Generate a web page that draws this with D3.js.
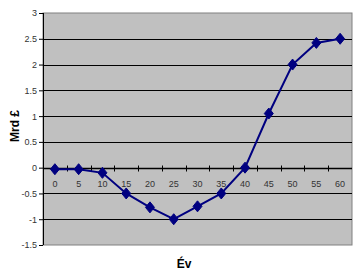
<!DOCTYPE html>
<html>
<head>
<meta charset="utf-8">
<script src="https://cdn.jsdelivr.net/npm/d3@7"></script>
<style>
  body { margin: 0; background: #fff; }
  svg text { font-family: "Liberation Sans", Arial, sans-serif; }
</style>
</head>
<body>
<svg id="chart" width="358" height="278"></svg>
<script>
var years = ["0", "5", "10", "15", "20", "25", "30", "35", "40", "45", "50", "55", "60"]
var values = [-0.03, -0.03, -0.1, -0.5, -0.77, -1.0, -0.75, -0.5, 0.0, 1.05, 2.0, 2.42, 2.5]
var yTicks = [-1.5, -1, -0.5, 0, 0.5, 1, 1.5, 2, 2.5, 3]

var svg = d3.select("#chart"),
	margin = {top: 13, right: 6, bottom: 33, left: 43},
	width = +svg.attr("width") - margin.left - margin.right,
	height = +svg.attr("height") - margin.top - margin.bottom,
	g = svg.append("g").attr("transform", "translate(" + margin.left + "," + margin.top + ")");

var xScale = d3.scaleBand()
	.domain(years)
	.range([0, width]);

var yScale = d3.scaleLinear()
	.domain([-1.5, 3])
	.range([height, 0]);

// plot background
g.append("rect")
	.attr("width", width)
	.attr("height", height)
	.attr("fill", "#c0c0c0")
	.attr("stroke", "#808080")
	.attr("stroke-width", 1);

// gridlines
g.append("g")
	.selectAll("line")
	.data(yTicks.filter(function(d) { return d > -1.5 && d < 3 && d != 0; }))
	.enter().append("line")
		.attr("x1", 0)
		.attr("x2", width)
		.attr("y1", function(d) { return Math.round(yScale(d)) + 0.5; })
		.attr("y2", function(d) { return Math.round(yScale(d)) + 0.5; })
		.attr("stroke", "#000")
		.attr("stroke-width", 1);

// y axis
var yAxis = d3.axisLeft(yScale)
	.tickValues(yTicks)
	.tickSize(4)
	.tickPadding(2)
	.tickFormat(function(d) { return d; });

var yG = g.append("g")
	.attr("class", "axis y")
	.call(yAxis);
yG.select(".domain").attr("stroke", "#000").attr("d", "M0.5," + height + "V0");
yG.selectAll("text").attr("font-size", 9).attr("fill", "#333").attr("font-family", "Liberation Sans Narrow, Liberation Sans, Arial, sans-serif");

// x axis at zero
var y0 = Math.round(yScale(0)) + 0.5;
var xG = g.append("g").attr("class", "axis x");
xG.append("line")
	.attr("x1", 0)
	.attr("x2", width)
	.attr("y1", y0)
	.attr("y2", y0)
	.attr("stroke", "#000")
	.attr("stroke-width", 1.5);
xG.selectAll(".tk")
	.data(years.slice(1))
	.enter().append("line")
		.attr("class", "tk")
		.attr("x1", function(d) { return Math.round(xScale(d)) + 0.5; })
		.attr("x2", function(d) { return Math.round(xScale(d)) + 0.5; })
		.attr("y1", y0 - 3)
		.attr("y2", y0 + 3)
		.attr("stroke", "#000");
xG.selectAll("text")
	.data(years)
	.enter().append("text")
		.attr("x", function(d) { return xScale(d) + xScale.bandwidth() / 2; })
		.attr("y", y0 + 18)
		.attr("text-anchor", "middle")
		.attr("font-size", 9)
		.attr("fill", "#333")
		.attr("font-family", "Liberation Sans Narrow, Liberation Sans, Arial, sans-serif")
		.text(function(d) { return d; });

// series line
var line = d3.line()
	.x(function(d, i) { return xScale(years[i]) + xScale.bandwidth() / 2; })
	.y(function(d) { return yScale(d); });

g.append("path")
	.datum(values)
	.attr("d", line)
	.attr("fill", "none")
	.attr("stroke", "#000080")
	.attr("stroke-width", 2);

// diamond markers
g.selectAll(".marker")
	.data(values)
	.enter().append("path")
		.attr("class", "marker")
		.attr("transform", function(d, i) {
			return "translate(" + (xScale(years[i]) + xScale.bandwidth() / 2) + "," + yScale(d) + ")";
		})
		.attr("d", "M0,-5.5L4.5,0L0,5.5L-4.5,0Z")
		.attr("fill", "#000080")
		.attr("stroke", "#000080");

// axis titles
svg.append("text")
	.attr("transform", "translate(19,126) rotate(-90)")
	.attr("text-anchor", "middle")
	.attr("font-size", 12)
	.attr("font-weight", "bold")
	.attr("fill", "#000")
	.text("Mrd £");

svg.append("text")
	.attr("x", 184)
	.attr("y", 268)
	.attr("text-anchor", "middle")
	.attr("font-size", 12)
	.attr("font-weight", "bold")
	.attr("fill", "#000")
	.text("Év");
</script>
</body>
</html>
